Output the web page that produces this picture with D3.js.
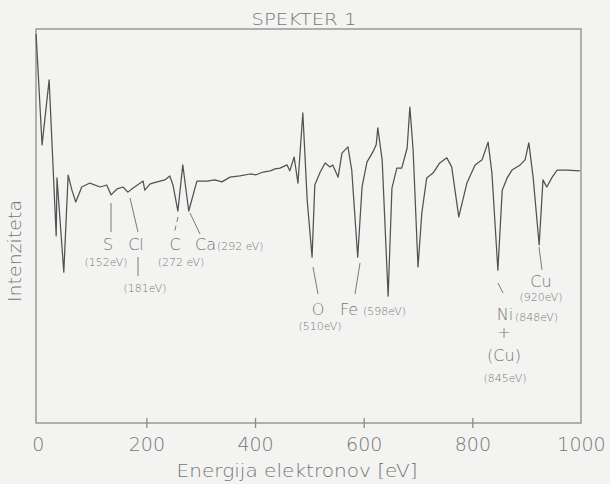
<!DOCTYPE html>
<html>
<head>
<meta charset="utf-8">
<script src="https://cdn.jsdelivr.net/npm/d3@7"></script>
<style>
	body { margin: 0; background: #f3f3f1; }
	svg { display: block; }
	.txt { font-family: "DejaVu Sans", sans-serif; font-weight: 200; fill: #767676; }
</style>
</head>
<body>
<div id="chart"></div>
<script>
// spekter: energija [eV] in intenziteta (relativne enote), odcitano s slike
const energy = [-3, 8, 21, 34, 35.5, 48, 56, 63, 70, 81, 96, 115, 127, 135, 146, 157, 166, 175, 194, 197,
	207, 220, 234, 243, 249, 258, 267, 278, 293, 312, 326, 339, 354, 372, 391, 402, 415, 428, 437, 446, 459, 464, 472, 479, 488, 496,
	505, 510, 520, 529, 538, 543, 553, 560, 571, 578, 589, 597, 606, 617, 623, 626, 634, 645, 652, 661,
	670, 680, 685, 691, 700, 707, 716, 728, 740, 753, 762, 775, 790, 805, 818, 829, 836, 847, 855, 864,
	873, 888, 897, 904, 912, 923, 930, 937, 947, 956, 974, 998];
const intensity = [98.7, 70.6, 87.1, 47.5, 62.2, 38.3, 62.9, 59.1, 56.1, 59.9, 60.9, 59.9, 60.4, 57.9, 59.4, 59.9, 58.6, 59.6, 61.4, 59.1,
	60.7, 61.2, 61.7, 62.7, 60.4, 53.8, 65.5, 53.8, 61.4, 61.4, 61.7, 61.2, 62.4, 62.7, 63.2, 63.0, 63.7, 64.0, 64.5, 64.7, 65.5, 64.0, 67.5, 60.9, 78.7, 56.6,
	42.1, 60.4, 63.7, 66.0, 65.0, 65.5, 62.4, 68.5, 70.1, 64.2, 42.1, 59.9, 66.2, 68.8, 70.6, 74.9, 66.8, 32.2, 59.6, 64.7,
	64.7, 69.8, 80.2, 69.3, 39.6, 53.3, 62.2, 63.5, 66.0, 67.3, 65.0, 52.3, 60.9, 65.5, 66.8, 71.3, 63.5, 38.8, 59.1, 62.2,
	64.2, 65.5, 66.8, 71.1, 62.2, 45.2, 61.7, 59.9, 62.4, 64.2, 64.2, 64.0];
const tickLabels = [0, 200, 400, 600, 800, 1000];
const tickMarks = [200, 400, 600, 800];

const width = 610, height = 484;
const box = { left: 36, top: 29, right: 581, bottom: 423 };

const svg = d3.select("#chart").append("svg")
	.attr("width", width)
	.attr("height", height);

const x = d3.scaleLinear().domain([-5, 1000]).range([35, 581]);
const y = d3.scaleLinear().domain([0, 100]).range([box.bottom, box.top]);

// okvir
svg.append("rect")
	.attr("x", box.left).attr("y", box.top)
	.attr("width", box.right - box.left).attr("height", box.bottom - box.top)
	.attr("fill", "none").attr("stroke", "#8a8a8a").attr("stroke-width", 1.3);

// x os - oznake in kratke crtice (navzgor in navzdol)
const axLabels = svg.append("g")
	.attr("transform", `translate(0,${box.bottom})`)
	.call(d3.axisBottom(x).tickValues(tickLabels).tickSize(0).tickPadding(15).tickFormat(d3.format("d")));
axLabels.select(".domain").remove();
axLabels.selectAll("text").attr("class", "txt").style("font-size", "19px").attr("fill", null);

[d3.axisBottom, d3.axisTop].forEach(function (ax) {
	const g = svg.append("g")
		.attr("transform", `translate(0,${box.bottom})`)
		.call(ax(x).tickValues(tickMarks).tickSize(5).tickFormat(""));
	g.select(".domain").remove();
	g.selectAll("line").attr("stroke", "#8a8a8a").attr("stroke-width", 1.3);
});

// krivulja
const line = d3.line()
	.x((d, i) => x(energy[i]))
	.y(d => y(d));

svg.append("path")
	.attr("d", line(intensity))
	.attr("fill", "none")
	.attr("stroke", "#525252")
	.attr("stroke-width", 1.25)
	.attr("stroke-linejoin", "round");

// naslovi
function label(t, px, py, size, anchor, len) {
	const el = svg.append("text")
		.attr("class", "txt")
		.attr("x", px).attr("y", py)
		.style("font-size", size + "px")
		.attr("text-anchor", anchor || "middle")
		.text(t);
	if (len) el.attr("textLength", len).attr("lengthAdjust", "spacingAndGlyphs");
	return el;
}

label("SPEKTER 1", 304, 25, 16, "middle", 105);
label("Energija  elektronov  [eV]", 297, 477, 17, "middle", 241);
label("Intenziteta", 0, 0, 17, "middle", 102)
	.attr("transform", "translate(21,251) rotate(-90)");

// oznake vrhov
const leaders = [
	[111, 203, 111, 232], [130, 198, 138, 232], [190, 213, 200, 234], [138, 257, 138, 276],
	[313, 267, 318, 294], [360, 263, 355, 294], [498, 283, 503, 293], [539, 247, 542, 270]
];
svg.selectAll(".leader").data(leaders).join("line")
	.attr("class", "leader")
	.attr("x1", d => d[0]).attr("y1", d => d[1])
	.attr("x2", d => d[2]).attr("y2", d => d[3])
	.attr("stroke", "#7a7a7a").attr("stroke-width", 1);
svg.append("line")
	.attr("x1", 178).attr("y1", 217).attr("x2", 174).attr("y2", 234)
	.attr("stroke", "#7a7a7a").attr("stroke-width", 1).attr("stroke-dasharray", "5,4");

label("S", 108, 250, 16);
label("Cl", 136, 250, 16);
label("C", 175, 250, 16);
label("Ca", 195, 250, 16, "start");
label("(292 eV)", 217, 250, 11, "start");
label("(152eV)", 106, 266, 11);
label("(272 eV)", 181, 266, 11);
label("(181eV)", 145, 292, 11);

label("O", 318, 315, 16);
label("(510eV)", 320, 330, 11);
label("Fe", 340, 315, 16, "start");
label("(598eV)", 363, 315, 11, "start");

label("Cu", 541, 287, 16);
label("(920eV)", 541, 301, 11);
label("Ni", 505, 320, 16);
label("(848eV)", 515, 321, 11, "start");
label("+", 504, 338, 16);
label("(Cu)", 504, 361, 16);
label("(845eV)", 505, 382, 11);
</script>
</body>
</html>
